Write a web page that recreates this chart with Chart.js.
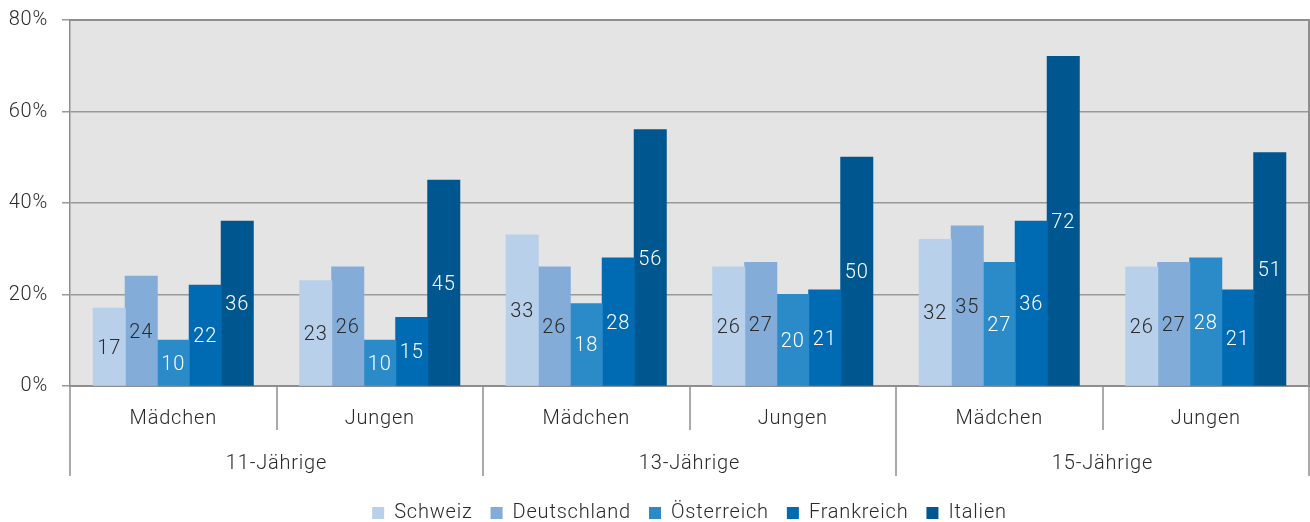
<!DOCTYPE html>
<html>
<head>
<meta charset="utf-8">
<script src="https://cdn.jsdelivr.net/npm/chart.js@4.4.1/dist/chart.umd.min.js"></script>
<style>
  html, body { margin: 0; padding: 0; background: #fff; }
  #wrap { width: 1310px; height: 522px; }
</style>
</head>
<body>
<div id="wrap"><canvas id="chart"></canvas></div>
<script>
// Data
const genders = ['Mädchen', 'Jungen', 'Mädchen', 'Jungen', 'Mädchen', 'Jungen'];
const ageGroups = ['11-Jährige', '13-Jährige', '15-Jährige'];
const countries = ['Schweiz', 'Deutschland', 'Österreich', 'Frankreich', 'Italien'];
const schweiz     = [17, 23, 33, 26, 32, 26];
const deutschland = [24, 26, 26, 27, 35, 27];
const oesterreich = [10, 10, 18, 20, 27, 28];
const frankreich  = [22, 15, 28, 21, 36, 21];
const italien     = [36, 45, 56, 50, 72, 51];
const yTicks = [0, 20, 40, 60, 80];

const colors = ['#b9d0eb', '#84acd8', '#2b8bc9', '#006ab2', '#00578f'];
const labelColors = ['#2a2a2a', '#2a2a2a', '#ffffff', '#ffffff', '#ffffff'];
const FONT = 'Roboto, "Noto Sans", sans-serif';
const TEXT = '#2a2a2a';
const LINE = '#8e8e8e';

// the reference type runs a bit wider than Roboto Light
const spacing = {
    id: 'spacing',
    beforeLayout(chart) { chart.ctx.letterSpacing = '0.8px'; },
    beforeDraw(chart) { chart.ctx.letterSpacing = '0.8px'; }
};

// Grey plot background, frame and the category separators
const plotFrame = {
    id: 'plotFrame',
    beforeDraw(chart) {
        const { ctx, chartArea: a } = chart;
        ctx.save();
        ctx.fillStyle = '#e4e4e4';
        ctx.fillRect(a.left, a.top, a.right - a.left, a.bottom - a.top);
        ctx.restore();
    },
    afterDraw(chart) {
        const { ctx, chartArea: a } = chart;
        const x = chart.scales.x;
        const step = x.getPixelForValue(1) - x.getPixelForValue(0);
        const start = x.getPixelForValue(0) - step / 2;
        ctx.save();
        ctx.strokeStyle = LINE;
        ctx.lineWidth = 1.5;
        for (let i = 0; i <= genders.length; i++) {
            const px = Math.round(start + i * step);
            ctx.beginPath();
            ctx.moveTo(px, a.bottom);
            ctx.lineTo(px, a.bottom + (i % 2 === 0 ? 90 : 44));
            ctx.stroke();
        }
        ctx.lineWidth = 2;
        ctx.beginPath();
        ctx.moveTo(a.left, a.top);
        ctx.lineTo(a.right, a.top);
        ctx.lineTo(a.right, a.bottom);
        ctx.stroke();
        ctx.restore();
    }
};

// Value labels inside the bars
const barLabels = {
    id: 'barLabels',
    afterDatasetsDraw(chart) {
        const ctx = chart.ctx;
        ctx.save();
        ctx.font = '300 20px ' + FONT;
        ctx.textAlign = 'center';
        ctx.textBaseline = 'middle';
        chart.data.datasets.forEach((ds, i) => {
            chart.getDatasetMeta(i).data.forEach((bar, j) => {
                const h = bar.base - bar.y;
                const y = h < 30 ? bar.base - 11 : (bar.y + bar.base) / 2 + 2;
                ctx.fillStyle = labelColors[i];
                ctx.fillText(String(ds.data[j]), bar.x, y);
            });
        });
        ctx.restore();
    }
};

const series = [schweiz, deutschland, oesterreich, frankreich, italien];
const font = { family: FONT, size: 20, weight: '300' };

new Chart(document.getElementById('chart'), {
    type: 'bar',
    data: {
        labels: genders,
        datasets: series.map((d, i) => ({
            label: countries[i],
            data: d,
            backgroundColor: colors[i],
            borderWidth: 0,
            inflateAmount: 0.5,
            barPercentage: 1,
            categoryPercentage: 0.775
        }))
    },
    options: {
        responsive: true,
        maintainAspectRatio: false,
        animation: false,
        layout: { padding: { top: 0, right: 1, left: 0, bottom: -11 } },
        plugins: {
            legend: {
                position: 'bottom',
                fullSize: false,
                labels: {
                    boxWidth: 12,
                    boxHeight: 12,
                    padding: 18,
                    color: TEXT,
                    font: font
                }
            },
            tooltip: { enabled: false }
        },
        scales: {
            x: {
                type: 'category',
                offset: true,
                grid: { display: false, drawTicks: false },
                border: { display: true, color: LINE, width: 2 },
                ticks: { padding: 21, color: TEXT, font: font },
                afterFit(scale) { scale.height = 44; }
            },
            x2: {
                type: 'category',
                labels: ageGroups,
                position: 'bottom',
                offset: true,
                grid: { display: false, drawTicks: false },
                border: { display: false },
                ticks: { padding: 22, color: TEXT, font: font },
                afterFit(scale) { scale.height = 55; }
            },
            y: {
                min: 0,
                max: 80,
                afterBuildTicks(scale) {
                    scale.ticks = yTicks.map(v => ({ value: v }));
                },
                afterFit(scale) {
                    scale.width = 70;
                    scale.paddingTop = 20;
                },
                grid: { color: '#999', lineWidth: 1.5, tickLength: 8 },
                border: { display: true, color: LINE, width: 1.5 },
                ticks: {
                    padding: 14,
                    color: TEXT,
                    font: font,
                    callback: v => v + '%'
                }
            }
        }
    },
    plugins: [spacing, plotFrame, barLabels]
});
</script>
</body>
</html>
